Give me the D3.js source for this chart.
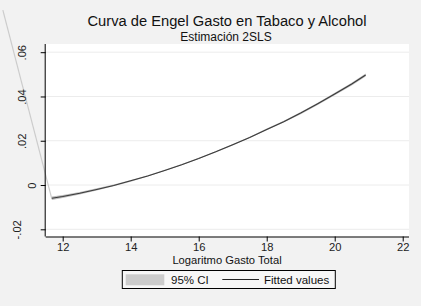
<!DOCTYPE html>
<html><head><meta charset="utf-8">
<script src="https://cdn.jsdelivr.net/npm/d3@7"></script>
<style>body{margin:0;background:#f2f2f2;}svg{display:block;font-family:"Liberation Sans",Arial,sans-serif;}</style>
</head><body><svg id="c" width="421" height="306"></svg>
<script>
const titleText = "Curva de Engel Gasto en Tabaco y Alcohol";
const subtitleText = "Estimación 2SLS";
const xTitle = "Logaritmo Gasto Total";
const xTicks = [12, 14, 16, 18, 20, 22];
const yTicks = [-0.02, 0, 0.02, 0.04, 0.06];
const yTickLabels = ["-.02", "0", ".02", ".04", ".06"];
const legendLabels = ["95% CI", "Fitted values"];
const xVals   = [11.68, 12, 12.5, 13, 13.5, 14, 14.5, 15, 15.5, 16, 16.5, 17, 17.5, 18, 18.5, 19, 19.5, 20, 20.5, 20.91];
const fitVals = [-0.0060, -0.0052, -0.0037, -0.0020, -0.0002, 0.0019, 0.0041, 0.0066, 0.0092, 0.0120, 0.0150, 0.0182, 0.0215, 0.0251, 0.0286, 0.0325, 0.0367, 0.0411, 0.0456, 0.0497];
const ciHalf  = [0.0008, 0.0007, 0.0006, 0.0005, 0.0004, 0.0004, 0.0003, 0.0003, 0.0003, 0.0003, 0.0003, 0.0003, 0.0003, 0.0004, 0.0004, 0.0005, 0.0005, 0.0006, 0.0006, 0.0007];
// stray CI edge segment going off the plot (as in the original)
const strayX = [10.24, 11.68];
const strayY = [0.079, -0.0063];

const svg = d3.select("#c");
const L = 45.7, R = 409, T = 44, B = 236.5;
const x = d3.scaleLinear().domain([11.5, 22.185]).range([L, R]);
const y = d3.scaleLinear().domain([-0.02325, 0.0637]).range([B, T]);

svg.append("rect").attr("width",421).attr("height",306).attr("fill","#f2f2f2");
svg.append("rect").attr("x",L).attr("y",T).attr("width",R-L).attr("height",B-T).attr("fill","#fff");

// gridlines
svg.append("g").selectAll("line").data(yTicks).join("line")
  .attr("x1",L).attr("x2",R).attr("y1",d=>y(d)).attr("y2",d=>y(d))
  .attr("stroke","#ececec").attr("stroke-width",1);

const data = xVals.map((v,i)=>({x:v, f:fitVals[i], lo:fitVals[i]-ciHalf[i], hi:fitVals[i]+ciHalf[i]}));

// CI band
svg.append("path").datum(data)
  .attr("d", d3.area().x(d=>x(d.x)).y0(d=>y(d.lo)).y1(d=>y(d.hi)))
  .attr("fill","#bdbdbd");
// stray segment
svg.append("path").datum(strayX.map((v,i)=>[v,strayY[i]]))
  .attr("d", d3.line().x(d=>x(d[0])).y(d=>y(d[1])))
  .attr("stroke","#cccccc").attr("stroke-width",1.2).attr("fill","none");
// fitted line
svg.append("path").datum(data)
  .attr("d", d3.line().x(d=>x(d.x)).y(d=>y(d.f)))
  .attr("stroke","#3a3a3a").attr("stroke-width",1.1).attr("fill","none");

// axes
const xa = svg.append("g").attr("transform",`translate(0,${B})`)
  .call(d3.axisBottom(x).tickValues(xTicks).tickSize(5).tickPadding(2).tickFormat(d3.format("d")));
xa.select(".domain").attr("d",`M${L},0.5H${R}`).attr("stroke","#000");
xa.selectAll("text").attr("font-size",11.2).attr("fill","#222").attr("font-family","Liberation Sans, Arial, sans-serif");

const ya = svg.append("g").attr("transform",`translate(${L},0)`)
  .call(d3.axisLeft(y).tickValues(yTicks).tickSize(5).tickFormat((d,i)=>yTickLabels[i]));
ya.select(".domain").attr("d",`M-0.5,${T}V${B}`).attr("stroke","#000");
ya.selectAll("text").each(function(d){
  const t = d3.select(this);
  t.attr("font-size",11.2).attr("fill","#222").attr("font-family","Liberation Sans, Arial, sans-serif")
   .attr("text-anchor","middle").attr("dy",null).attr("x",null).attr("y",null);
  const len = this.getComputedTextLength();
  const cx = 39.4 - 1.14*len - L;
  t.attr("transform",`translate(${cx + 4},${0}) rotate(-90)`);
});

// titles
svg.append("text").attr("x",227).attr("y",26).attr("text-anchor","middle").attr("font-size",14.7).attr("fill","#111").text(titleText);
svg.append("text").attr("x",226).attr("y",41).attr("text-anchor","middle").attr("font-size",12).attr("fill","#111").text(subtitleText);
svg.append("text").attr("x",227).attr("y",264).attr("text-anchor","middle").attr("font-size",11.2).attr("fill","#111").text(xTitle);

// legend
const lg = svg.append("g");
lg.append("rect").attr("x",122.3).attr("y",270.5).attr("width",213).attr("height",18).attr("fill","#f7f7f7").attr("stroke","#000").attr("stroke-width",1);
lg.append("rect").attr("x",125.7).attr("y",274.3).attr("width",38.6).attr("height",11).attr("fill","#cccccc");
lg.append("text").attr("x",171).attr("y",284).attr("font-size",11.5).attr("fill","#111").text(legendLabels[0]);
lg.append("line").attr("x1",222.3).attr("x2",259).attr("y1",279.5).attr("y2",279.5).attr("stroke","#222").attr("stroke-width",1);
lg.append("text").attr("x",264).attr("y",284).attr("font-size",11.5).attr("fill","#111").text(legendLabels[1]);
</script></body></html>
